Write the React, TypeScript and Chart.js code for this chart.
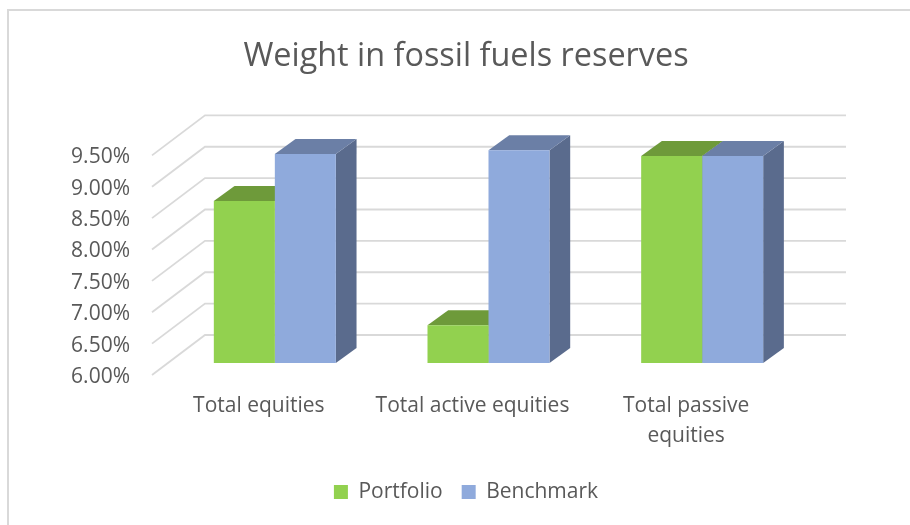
import React, { useEffect, useRef } from "react";
import { Chart, registerables } from "chart.js";

Chart.register(...registerables);

const categories = ["Total equities", "Total active equities", ["Total passive", "equities"]];
const portfolio = [8.58, 6.6, 9.3];
const benchmark = [9.33, 9.39, 9.3];
const seriesNames = ["Portfolio", "Benchmark"];
const frontColors = ["#92D14F", "#8FAADC"];
const topColors = ["#6E9A3A", "#6B7FA6"];
const sideColors = ["#5F7F38", "#5A6B8D"];

const FONT = "'Open Sans', sans-serif";
const TEXT = "#595959";
const GRID = "#D9D9D9";

// 3D projection of the Excel-like chart
const WALL_DX = 53;
const WALL_DY = -40;
const BAR_SHIFT_X = 16;
const BAR_SHIFT_Y = -12;
const BAR_DX = 20.7;
const BAR_DY = -15;

const poly = (ctx: CanvasRenderingContext2D, pts: number[][], fill: string) => {
  ctx.fillStyle = fill;
  ctx.beginPath();
  pts.forEach(([x, y], i) => (i ? ctx.lineTo(x, y) : ctx.moveTo(x, y)));
  ctx.closePath();
  ctx.fill();
};

const frame3d = {
  id: "frame3d",
  beforeDraw(chart: any) {
    const { ctx } = chart;
    ctx.save();
    ctx.fillStyle = "#FFFFFF";
    ctx.fillRect(0, 0, chart.width, chart.height);
    ctx.fillStyle = GRID;
    ctx.fillRect(7, 9, chart.width - 7, 2);
    ctx.fillRect(7, 9, 2, chart.height - 9);
    ctx.restore();
  },
  beforeDatasetsDraw(chart: any) {
    const { ctx, chartArea, scales } = chart;
    ctx.save();
    ctx.strokeStyle = GRID;
    ctx.lineWidth = 1.8;
    scales.y.ticks.forEach((t: any) => {
      const py = scales.y.getPixelForValue(t.value);
      ctx.beginPath();
      ctx.moveTo(chartArea.left, py);
      ctx.lineTo(chartArea.left + WALL_DX, py + WALL_DY);
      ctx.lineTo(chartArea.right + WALL_DX, py + WALL_DY);
      ctx.stroke();
    });
    ctx.restore();
    ctx.save();
    ctx.translate(BAR_SHIFT_X, BAR_SHIFT_Y);
    chart.data.datasets.forEach((_: any, di: number) => {
      chart.getDatasetMeta(di).data.forEach((bar: any) => {
        const l = bar.x - bar.width / 2;
        const r = bar.x + bar.width / 2;
        const t = bar.y;
        const b = bar.base;
        poly(ctx, [[r, t], [r + BAR_DX, t + BAR_DY], [r + BAR_DX, b + BAR_DY], [r, b]], sideColors[di]);
        poly(ctx, [[l, t], [l + BAR_DX, t + BAR_DY], [r + BAR_DX, t + BAR_DY], [r, t]], topColors[di]);
      });
    });
    ctx.restore();
    ctx.save();
    ctx.translate(BAR_SHIFT_X, BAR_SHIFT_Y);
  },
  afterDatasetsDraw(chart: any) {
    chart.ctx.restore();
  },
};

export default function App() {
  const ref = useRef<HTMLCanvasElement>(null);
  useEffect(() => {
    document.body.style.margin = "0";
    const chart = new Chart(ref.current!, {
      type: "bar",
      data: {
        labels: categories as any,
        datasets: [
          { label: seriesNames[0], data: portfolio, backgroundColor: frontColors[0], base: 6 },
          { label: seriesNames[1], data: benchmark, backgroundColor: frontColors[1], base: 6 },
        ],
      },
      plugins: [frame3d],
      options: {
        responsive: false,
        animation: false,
        layout: { padding: { left: 22, right: 0, top: 0, bottom: 12.5 } },
        datasets: { bar: { categoryPercentage: 0.571, barPercentage: 1, borderWidth: 0 } },
        scales: {
          x: {
            grid: { display: false },
            border: { display: false },
            ticks: {
              color: TEXT,
              font: { family: FONT, size: 21, lineHeight: 1.43 },
              maxRotation: 0,
              minRotation: 0,
              autoSkip: false,
              padding: 8,
            },
            afterFit: (s: any) => {
              s.height = 87.5;
            },
          },
          y: {
            min: 6,
            max: 9.5,
            grid: { display: false },
            border: { display: false },
            ticks: {
              stepSize: 0.5,
              color: TEXT,
              padding: 14,
              labelOffset: 2,
              font: { family: FONT, size: 21 },
              callback: (v: any) => Number(v).toFixed(2) + "%",
            },
            afterFit: (s: any) => {
              s.width = 130;
            },
          },
          spacer: {
            axis: "y",
            position: "right",
            display: true,
            grid: { display: false },
            border: { display: false },
            ticks: { display: false },
            afterFit: (s: any) => {
              s.width = 117;
            },
          },
        },
        plugins: {
          title: {
            display: true,
            text: "Weight in fossil fuels reserves",
            color: TEXT,
            font: { family: FONT, size: 32.4, weight: "normal", lineHeight: 1.2 },
            padding: { top: 37, bottom: 79.5 },
          },
          legend: {
            position: "bottom",
            labels: {
              color: TEXT,
              boxWidth: 14,
              boxHeight: 14,
              padding: 19,
              font: { family: FONT, size: 21 },
            },
          },
          tooltip: { enabled: false },
        },
      },
    } as any);
    return () => chart.destroy();
  }, []);
  return <canvas ref={ref} width={910} height={525} style={{ display: "block" }} />;
}
